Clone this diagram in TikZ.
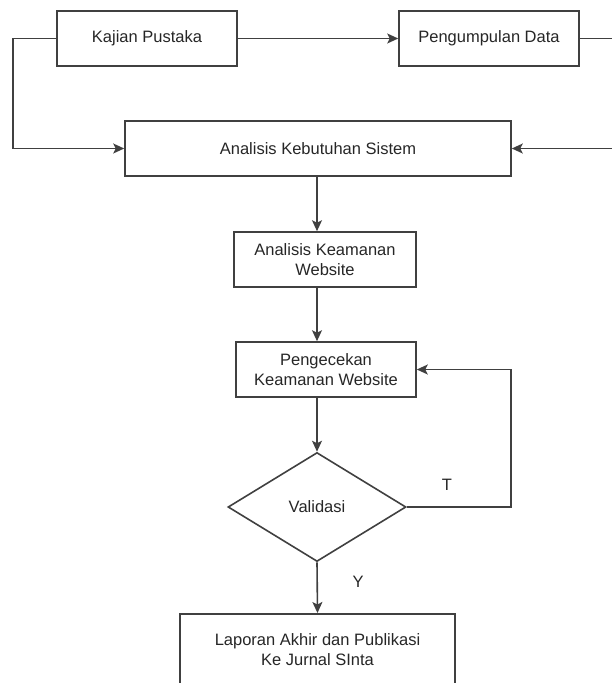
\documentclass[tikz,border=0pt]{standalone}
\usepackage{fontspec}
\setmainfont{Liberation Sans}
\usetikzlibrary{arrows.meta, shapes.geometric}

\begin{document}
\begin{tikzpicture}[x=1pt, y=-1pt,
    every node/.style={font=\fontsize{16.5}{20}\selectfont, text=black!85},
    box/.style={draw=black!75, line width=1.6pt, rectangle, minimum height=55pt, inner sep=0pt, align=center},
    decision/.style={draw=black!75, line width=1.6pt, diamond, minimum width=178pt, minimum height=109pt, inner sep=0pt},
    arr/.style={draw=black!75, line width=1.6pt, -{Stealth[length=11pt, width=10pt, inset=2.5pt]}}]
    \useasboundingbox (0,0) rectangle (611,683);
    \node[box, minimum width=180pt] (kajian) at (147, 38.5) {Kajian Pustaka};
    \node[box, minimum width=180pt] (pengumpulan) at (489, 38.5) {Pengumpulan Data};
    \node[box, minimum width=386pt] (kebutuhan) at (318, 148.5) {Analisis Kebutuhan Sistem};
    \node[box, minimum width=182pt] (keamanan) at (325, 259.5) {Analisis Keamanan\\Website};
    \node[box, minimum width=180pt] (pengecekan) at (326, 369.5) {Pengecekan\\Keamanan Website};
    \node[decision] (validasi) at (317, 507) {Validasi};
    \node[box, minimum width=275pt, anchor=north, inner ysep=20pt, text depth=60pt] (laporan) at (317.5, 613) {Laporan Akhir dan Publikasi\\Ke Jurnal SInta};

    % alur atas
    \draw[arr] (kajian.west) -- ++(-43, 0) |- (kebutuhan.west);
    \draw[arr] (kajian.east) -- (pengumpulan.west);
    \draw[arr] (pengumpulan.east) -- ++(60, 0) |- (kebutuhan.east);

    % alur tengah
    \draw[arr] (kebutuhan.south -| validasi) -- (keamanan.north -| validasi);
    \draw[arr] (keamanan.south -| validasi) -- (pengecekan.north -| validasi);
    \draw[arr] (pengecekan.south -| validasi) -- (validasi.north);

    % validasi
    \draw[arr] (validasi.east) -- ++(104, 0) |- (pengecekan.east);
    \node (t) at (447, 485) {T};
    \draw[arr] (validasi.south) -- (laporan.north);
    \node (y) at (358, 582) {Y};
\end{tikzpicture}
\end{document}
